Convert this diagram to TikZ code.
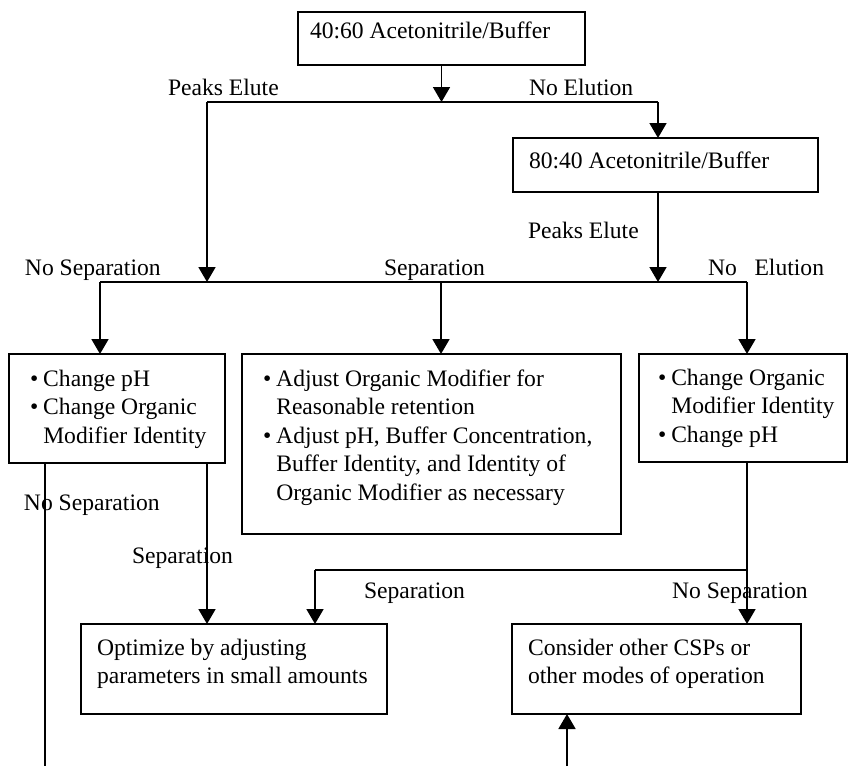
\documentclass[tikz,border=0pt]{standalone}
\usepackage{fontspec}
\setmainfont{Liberation Serif}
\usetikzlibrary{arrows.meta}
\begin{document}
\begin{tikzpicture}[x=0.5pt,y=-0.5pt,
  every node/.style={font=\fontsize{11.8}{14.25}\selectfont},
  box/.style={draw, line width=0.9pt, inner sep=0pt, outer sep=0pt, anchor=north west},
  txt/.style={inner sep=0pt, outer sep=0pt, anchor=base west},
  lbl/.style={inner sep=0pt, outer sep=0pt, anchor=base west},
  line/.style={line width=0.9pt},
  arr/.style={line width=0.9pt, -{Triangle[length=7.5pt,width=8.5pt]}}]
\useasboundingbox (0,0) rectangle (850,766);

% boxes
\node[box, minimum width=143.5pt, minimum height=26.5pt] (top) at (298,12) {};
\node[box, minimum width=152.5pt, minimum height=27pt] (b2) at (513,138) {};
\node[box, minimum width=108pt, minimum height=54.5pt] (A) at (9,354) {};
\node[box, minimum width=189.5pt, minimum height=90pt] (B) at (242,354) {};
\node[box, minimum width=104pt, minimum height=54pt] (C) at (639,354) {};
\node[box, minimum width=153pt, minimum height=45pt] (Opt) at (81,624) {};
\node[box, minimum width=144.5pt, minimum height=45pt] (Con) at (512,624) {};

% box texts
\node[txt] (ttop) at (310,38) {40:60 Acetonitrile/Buffer};
\node[txt] (tb2) at (529,168) {80:40 Acetonitrile/Buffer};
\node[txt] (tA) at (30,386) {\begin{tabular}[t]{@{}l@{\hspace{2.5pt}}l@{}}\textbullet & Change pH\\ \textbullet & Change Organic\\ & Modifier Identity\end{tabular}};
\node[txt] (tB) at (263,386) {\begin{tabular}[t]{@{}l@{\hspace{2.5pt}}l@{}}\textbullet & Adjust Organic Modifier for\\ & Reasonable retention\\ \textbullet & Adjust pH, Buffer Concentration,\\ & Buffer Identity, and Identity of\\ & Organic Modifier as necessary\end{tabular}};
\node[txt] (tC) at (658,385) {\begin{tabular}[t]{@{}l@{\hspace{2.5pt}}l@{}}\textbullet & Change Organic\\ & Modifier Identity\\ \textbullet & Change pH\end{tabular}};
\node[txt] (tOpt) at (97,655) {\begin{tabular}[t]{@{}l@{}}Optimize by adjusting\\ parameters in small amounts\end{tabular}};
\node[txt] (tCon) at (528,655) {\begin{tabular}[t]{@{}l@{}}Consider other CSPs or\\ other modes of operation\end{tabular}};

% labels
\node[lbl] (l1) at (168,95) {Peaks Elute};
\node[lbl] (l2) at (529,95) {No Elution};
\node[lbl] (l3) at (528,238) {Peaks Elute};
\node[lbl] (l4) at (25,275) {No Separation};
\node[lbl] (l5) at (384,275) {Separation};
\node[lbl] (l6) at (708,275) {No\ \ \ Elution};
\node[lbl] (l7) at (24,510) {No Separation};
\node[lbl] (l8) at (132,563) {Separation};
\node[lbl] (l9) at (364,598) {Separation};
\node[lbl] (l10) at (672,598) {No Separation};

% junction coordinates
\coordinate (jL) at (207,102);
\coordinate (jR) at (658,102);
\coordinate (kL) at (100,282);
\coordinate (kM) at (441,282);
\coordinate (kR) at (747,282);
\coordinate (xa) at (45,766);
\coordinate (xb) at (207,0);
\coordinate (xc) at (658,0);
\coordinate (m) at (315,570);
\coordinate (u) at (567,766);

% connectors
\draw[arr] (top.south) -- (top.south |- jL);
\draw[line] (jL) -- (jR);
\draw[arr] (jL) -- (jL |- kL);
\draw[arr] (jR) -- (jR |- b2.north);
\draw[arr] (b2.south -| xc) -- (xc |- kL);
\draw[line] (kL) -- (kR);
\draw[arr] (kL) -- (kL |- A.north);
\draw[arr] (kM) -- (kM |- B.north);
\draw[arr] (kR) -- (kR |- C.north);
\draw[line] (A.south -| xa) -- (xa);
\draw[arr] (A.south -| xb) -- (Opt.north -| xb);
\draw[arr] (C.south -| kR) -- (Con.north -| kR);
\draw[line] (kR |- m) -- (m);
\draw[arr] (m) -- (m |- Opt.north);
\draw[arr] (u) -- (u |- Con.south);
\end{tikzpicture}
\end{document}
